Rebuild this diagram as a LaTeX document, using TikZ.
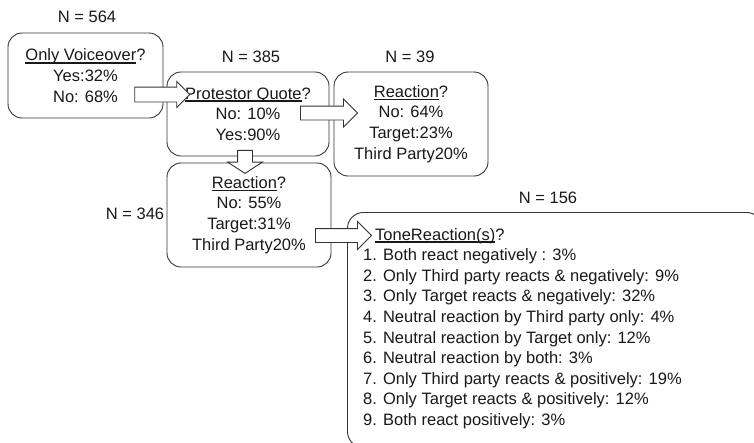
\documentclass[tikz,border=0pt]{standalone}
\usepackage{fontspec}
\setmainfont{Liberation Sans}
\usetikzlibrary{shapes.arrows, calc}
\definecolor{line_gray}{gray}{0.2}
\definecolor{text_gray}{gray}{0.1}
\newcommand{\qline}[1]{\setbox0\hbox{#1}\rlap{\rule[-2.8pt]{\wd0}{1.5pt}}\box0}

\begin{document}
\begin{tikzpicture}[x=1pt,y=-1pt,
    qbox/.style={draw=line_gray, line width=0.9pt, rounded corners=14pt, fill=white,
        align=center, inner sep=0pt, text=text_gray, font=\fontsize{16.5}{20.6}\selectfont},
    nlab/.style={text=text_gray, font=\fontsize{16.5}{20}\selectfont},
    barrow/.style={single arrow, draw=line_gray, line width=0.9pt, fill=white, inner xsep=0pt, inner ysep=6.5pt}]
    \useasboundingbox (0,0) rectangle (754,442);
    \clip (0,0) rectangle (754,442);
    %1段目
    \node[nlab] (n564) at (87,17) {N = 564};
    \node[qbox, minimum width=155, minimum height=85] (q0) at (85.5,75.5)
        {\qline{Only Voiceover}?\\Yes:32\%\\No: 68\%};
    %2段目
    \node[nlab] (n385) at (251,57) {N = 385};
    \node[qbox, minimum width=162, minimum height=84] (q1) at (248,114)
        {\qline{Protestor Quote}?\\No: 10\%\\Yes:90\%};
    \node[nlab] (n39) at (410,57) {N = 39};
    \node[qbox, minimum width=154, minimum height=104] (q2) at (411,124)
        {\qline{Reaction}?\\No: 64\%\\Target:23\%\\Third Party20\%};
    %3段目
    \node[nlab] (n346) at (135,214) {N = 346};
    \node[qbox, minimum width=164, minimum height=104] (q3) at (249,215)
        {\qline{Reaction}?\\No: 55\%\\Target:31\%\\Third Party20\%};
    %トーン
    \node[nlab] (n156) at (548,198) {N = 156};
    \node[qbox, rounded corners=16pt, minimum width=415, minimum height=235, anchor=north west] (q4) at (347,212) {};
    \node[anchor=north west, align=left, inner sep=0pt, text=text_gray,
        font=\fontsize{16.5}{20.6}\selectfont] (tone) at (363,228)
        {\hspace{12pt}\qline{ToneReaction(s)}?\\
         1. Both react negatively : 3\%\\
         2. Only Third party reacts \& negatively: 9\%\\
         3. Only Target reacts \& negatively: 32\%\\
         4. Neutral reaction by Third party only: 4\%\\
         5. Neutral reaction by Target only: 12\%\\
         6. Neutral reaction by both: 3\%\\
         7. Only Third party reacts \& positively: 19\%\\
         8. Only Target reacts \& positively: 12\%\\
         9. Both react positively: 3\%};
    %矢印
    \node[barrow, minimum height=55, inner ysep=7pt, single arrow head extend=5.5pt] (a01) at (158.5,94.5) {};
    \node[barrow, minimum height=57, single arrow head extend=7pt] (a12) at (325.5,113) {};
    \node[barrow, minimum height=23, inner ysep=7pt, single arrow head extend=10pt,
        single arrow tip angle=114, rotate=-90] (a13) at (245,159.5) {};
    \node[barrow, minimum height=56, single arrow head extend=7pt] (a34) at (340,235.5) {};
\end{tikzpicture}
\end{document}
